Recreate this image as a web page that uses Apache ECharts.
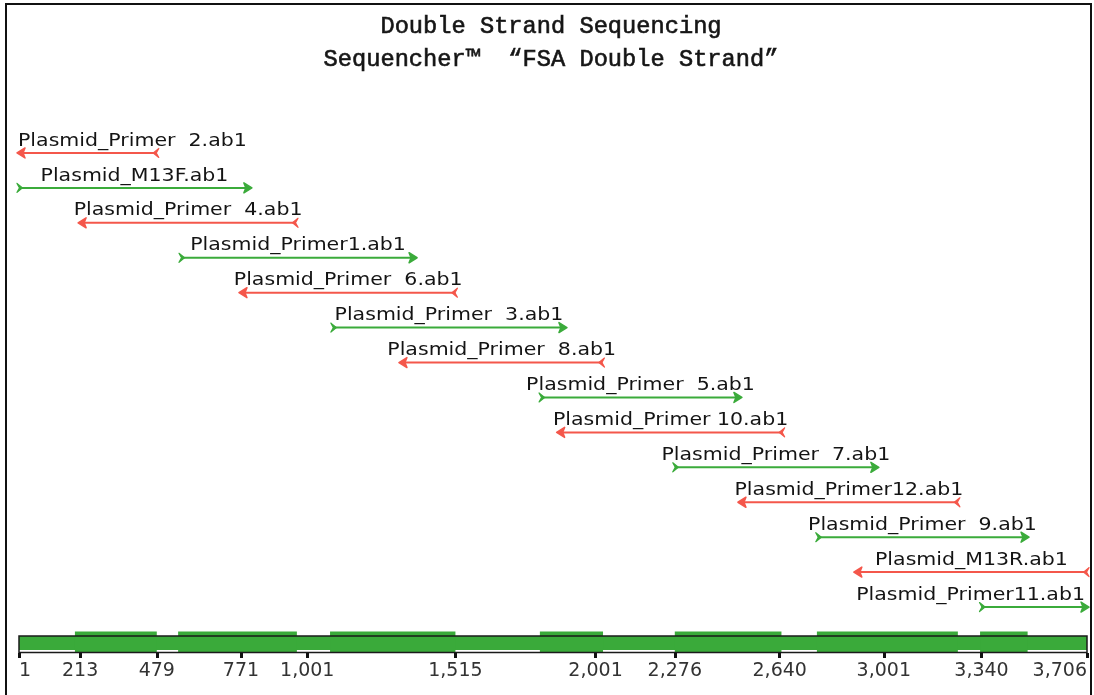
<!DOCTYPE html>
<html><head><meta charset="utf-8">
<script src="https://cdn.jsdelivr.net/npm/echarts@6/dist/echarts.min.js"></script>
<style>html,body{margin:0;padding:0;background:#fff}#c{width:1094px;height:695px}</style>
</head><body><div id="c"></div>
<script>
// ---- data ----
const titleLines = ['Double Strand Sequencing', 'Sequencher\u2122  \u201CFSA Double Strand\u201D'];
const readNames = [
  'Plasmid_Primer  2.ab1', 'Plasmid_M13F.ab1', 'Plasmid_Primer  4.ab1', 'Plasmid_Primer1.ab1',
  'Plasmid_Primer  6.ab1', 'Plasmid_Primer  3.ab1', 'Plasmid_Primer  8.ab1', 'Plasmid_Primer  5.ab1',
  'Plasmid_Primer 10.ab1', 'Plasmid_Primer  7.ab1', 'Plasmid_Primer12.ab1', 'Plasmid_Primer  9.ab1',
  'Plasmid_M13R.ab1', 'Plasmid_Primer11.ab1'
];
const readStarts = [1, 1, 213, 563, 771, 1090, 1326, 1812, 1873, 2276, 2502, 2772, 2904, 3340];
const readEnds   = [479, 802, 962, 1375, 1515, 1895, 2025, 2502, 2650, 2977, 3258, 3498, 3706, 3706];
const readStrands = ['R', 'F', 'R', 'F', 'R', 'F', 'R', 'F', 'R', 'F', 'R', 'F', 'R', 'F'];
const tickValues = [1, 213, 479, 771, 1001, 1515, 2001, 2276, 2640, 3001, 3340, 3706];
const seqMin = 1, seqMax = 3706;
const doubleStarts = [195, 553, 1080, 1808, 2276, 2769, 3335];
const doubleEnds   = [479, 965, 1515, 2027, 2646, 3258, 3500];

// ---- styles ----
const RED = '#f4574b', GREEN = '#3bab3b', BARGREEN = '#3aaa3a';
const LABEL_FONT = '18px "DejaVu Sans"';
const LABEL_SCALE = 1.14;
const measureCtx = document.createElement('canvas').getContext('2d');
measureCtx.font = LABEL_FONT;

const chart = echarts.init(document.getElementById('c'), null, {renderer: 'canvas'});

function renderRead(params, api) {
  const i = api.value(2);
  const a = api.coord([api.value(0), i]);
  const b = api.coord([api.value(1), i]);
  const x1 = a[0], x2 = b[0], y = a[1];
  const fwd = readStrands[i] === 'F';
  const color = fwd ? GREEN : RED;
  const cs = params.coordSys;
  const children = [];
  children.push({type: 'line', shape: {x1: x1, y1: y, x2: x2, y2: y}, style: {stroke: color, lineWidth: 2}});
  let head, tail;
  if (fwd) {
    head = [[x2 + 2, y], [x2 - 6, y - 5], [x2 - 4, y], [x2 - 6, y + 5]];
    tail = [[x1 - 2, y - 4.5], [x1 + 3.5, y], [x1 - 2, y + 4.5], [x1 + 0.5, y]];
  } else {
    head = [[x1 - 2, y], [x1 + 6, y - 5], [x1 + 4, y], [x1 + 6, y + 5]];
    tail = [[x2 + 2, y - 4.5], [x2 - 3.5, y], [x2 + 2, y + 4.5], [x2 - 0.5, y]];
  }
  children.push({type: 'polygon', shape: {points: head}, style: {fill: color, stroke: color, lineWidth: 1.5, lineJoin: 'round'}});
  children.push({type: 'polygon', shape: {points: tail}, style: {fill: color, stroke: color, lineWidth: 1.2, lineJoin: 'round'}});
  const name = readNames[i];
  const w = measureCtx.measureText(name).width * LABEL_SCALE;
  let cx = (x1 + x2) / 2;
  const lo = cs.x - 1, hi = cs.x + cs.width - 2;
  if (cx - w / 2 < lo) cx = lo + w / 2;
  if (cx + w / 2 > hi) cx = hi - w / 2;
  children.push({
    type: 'text', x: cx, y: y - 12, scaleX: LABEL_SCALE,
    style: {text: name, x: 0, y: 0, font: LABEL_FONT, fill: '#141414', align: 'center', verticalAlign: 'middle'}
  });
  return {type: 'group', children: children};
}

function renderBase(params, api) {
  const cs = params.coordSys;
  const a = api.coord([api.value(0), 0]);
  const b = api.coord([api.value(1), 0]);
  return {type: 'rect', shape: {x: a[0], y: cs.y, width: b[0] - a[0], height: cs.height - 3}, style: {fill: BARGREEN}};
}
function renderDouble(params, api) {
  const cs = params.coordSys;
  const a = api.coord([api.value(0), 0]);
  const b = api.coord([api.value(1), 0]);
  return {type: 'rect', shape: {x: a[0], y: cs.y - 4.5, width: b[0] - a[0], height: cs.height + 4}, style: {fill: BARGREEN}};
}
function renderOutline(params, api) {
  const cs = params.coordSys;
  const a = api.coord([api.value(0), 0]);
  const b = api.coord([api.value(1), 0]);
  return {type: 'rect', shape: {x: a[0], y: cs.y, width: b[0] - a[0], height: cs.height - 0.5}, style: {fill: null, stroke: '#1a1a1a', lineWidth: 1.5}};
}

const titleStyle = {font: '23.7px "Liberation Mono"', fill: '#151515', stroke: '#151515', lineWidth: 0.6, align: 'center', verticalAlign: 'middle'};

const option = {
  backgroundColor: '#fff',
  animation: false,
  graphic: [
    {type: 'rect', shape: {x: 6, y: 4, width: 1085, height: 720}, style: {fill: null, stroke: '#111', lineWidth: 2}, silent: true},
    {type: 'text', x: 551, y: 27, style: Object.assign({text: titleLines[0]}, titleStyle)},
    {type: 'text', x: 551, y: 60, style: Object.assign({text: titleLines[1]}, titleStyle)}
  ],
  grid: [
    {left: 19, right: 7, top: 135.5, height: 489},
    {left: 19, right: 7, top: 636, height: 17}
  ],
  xAxis: [
    {gridIndex: 0, type: 'value', min: seqMin, max: seqMax, show: false},
    {gridIndex: 1, type: 'value', min: seqMin, max: seqMax,
     axisLine: {show: false}, splitLine: {show: false},
     axisTick: {show: true, customValues: tickValues, length: 5, lineStyle: {width: 3, color: '#111'}},
     axisLabel: {customValues: tickValues, formatter: v => Number(v).toLocaleString('en-US'),
                 fontFamily: 'DejaVu Sans', fontSize: 19, color: '#333', margin: 9,
                 showMinLabel: true, showMaxLabel: true, alignMinLabel: 'left', alignMaxLabel: 'right'}}
  ],
  yAxis: [
    {gridIndex: 0, type: 'category', data: readNames, inverse: true, show: false},
    {gridIndex: 1, type: 'value', min: 0, max: 1, show: false}
  ],
  series: [
    {type: 'custom', xAxisIndex: 0, yAxisIndex: 0, renderItem: renderRead, z: 5,
     encode: {x: [0, 1], y: 2},
     data: readNames.map((n, i) => [readStarts[i], readEnds[i], i])},
    {type: 'custom', xAxisIndex: 1, yAxisIndex: 1, renderItem: renderBase, z: 1,
     encode: {x: [0, 1]}, data: [[seqMin, seqMax]]},
    {type: 'custom', xAxisIndex: 1, yAxisIndex: 1, renderItem: renderDouble, z: 2,
     encode: {x: [0, 1]}, data: doubleStarts.map((s, i) => [s, doubleEnds[i]])},
    {type: 'custom', xAxisIndex: 1, yAxisIndex: 1, renderItem: renderOutline, z: 3,
     encode: {x: [0, 1]}, data: [[seqMin, seqMax]]}
  ]
};
chart.setOption(option);
</script></body></html>
